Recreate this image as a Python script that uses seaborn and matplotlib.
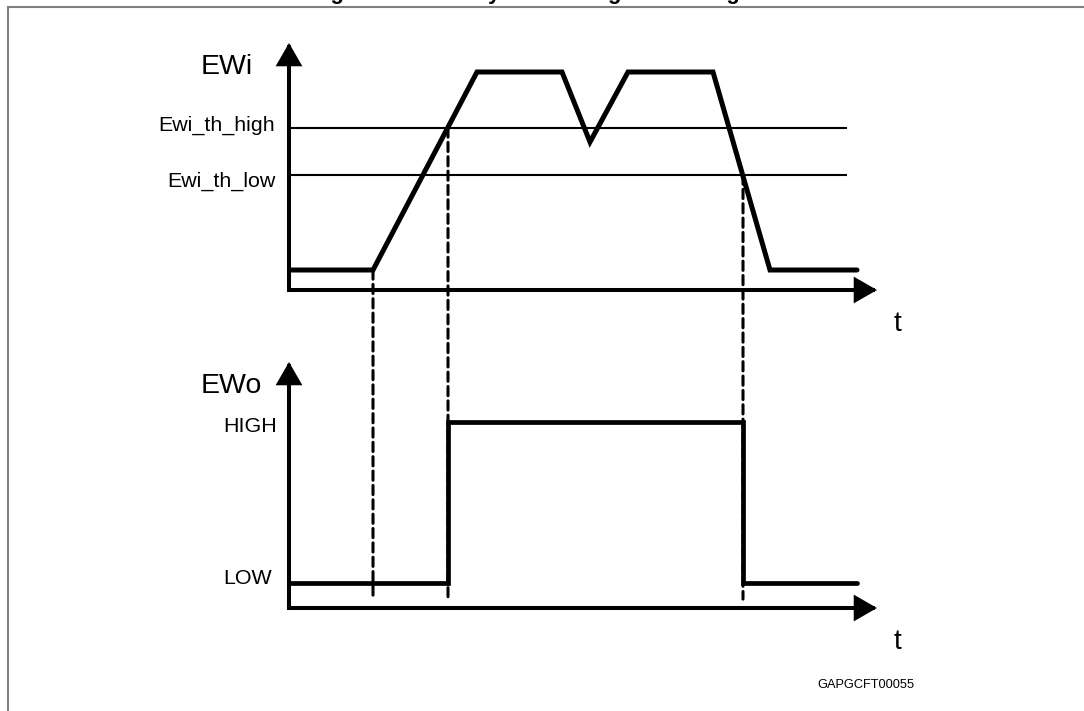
import matplotlib
matplotlib.use('Agg')
import matplotlib.pyplot as plt
from matplotlib.patches import ConnectionPatch, Rectangle
import seaborn as sns

# EWi input signal (time in arbitrary units)
ewi_time = [0, 8.4, 18.8, 27.3, 30.1, 33.9, 42.4, 48.1, 56.8]
ewi_level = [1.0, 1.0, 10.9, 10.9, 7.4, 10.9, 10.9, 1.0, 1.0]

# hysteresis thresholds
th_names = ['Ewi_th_high', 'Ewi_th_low']
th_levels = [8.1, 5.75]
th_end = 55.8

# EWo output, 0 = LOW, 1 = HIGH
ewo_time = [0, 15.9, 15.9, 45.4, 45.4, 56.8]
ewo_state = [0, 0, 1, 1, 0, 0]
state_names = ['LOW', 'HIGH']

# events marked by dashed lines: time and EWi level where the line starts
event_time = [8.4, 15.9, 45.4]
event_level = [1.0, 8.1, 5.75]

title = 'Figure 12. EWx hysteresis signal filtering'
fig_code = 'GAPGCFT00055'


def draw_axes(ax, name):
    # axis lines with arrow heads instead of normal spines
    ax.set_axis_off()
    style = dict(arrowstyle='-|>,head_length=0.4,head_width=0.23', color='black',
                 lw=2.9, mutation_scale=31, shrinkA=0, shrinkB=0,
                 capstyle='projecting', joinstyle='miter')
    ax.annotate('', xy=(1, 0), xytext=(0, 0), xycoords='axes fraction', arrowprops=style)
    ax.annotate('', xy=(0, 1), xytext=(0, 0), xycoords='axes fraction', arrowprops=style)
    ax.annotate(name, xy=(0, 1), xycoords='axes fraction', xytext=(-63.4, -22.3),
                textcoords='offset points', ha='left', va='baseline', fontsize=20.5)
    ax.annotate('t', xy=(1, 0), xycoords='axes fraction', xytext=(15, -29.2),
                textcoords='offset points', ha='center', va='baseline', fontsize=20.5)


def generate_plot():
    sns.set_style('white')
    plt.rcParams['font.family'] = ['Liberation Sans', 'DejaVu Sans']
    plt.rcParams['text.color'] = 'black'

    fig = plt.figure(figsize=(10.84, 7.11), dpi=100)

    # grey frame of the document figure
    fig.add_artist(Rectangle((8 / 1084, -0.05), 1.2, 1.05 - 7 / 711, transform=fig.transFigure,
                             fill=False, edgecolor='#808080', lw=1.5))
    # title is cut by the top of the image, as in the source document
    fig.text(311 / 1084, 1 + 0.6 / 711, title, ha='left', va='baseline',
             fontsize=15.8, fontweight='bold')
    fig.text(866 / 1084, 1 - 688 / 711, fig_code, ha='center', va='baseline', fontsize=9.2)

    ax1 = fig.add_axes([289 / 1084, 1 - 290 / 711, 588 / 1084, 247 / 711])
    ax2 = fig.add_axes([289 / 1084, 1 - 608 / 711, 588 / 1084, 246 / 711])
    ax1.set_xlim(0, 58.8)
    ax1.set_ylim(0, 12.35)
    ax2.set_xlim(0, 58.8)
    ax2.set_ylim(-0.1553, 1.3727)

    draw_axes(ax1, 'EWi')
    draw_axes(ax2, 'EWo')

    # top panel: input signal and thresholds
    ax1.hlines(th_levels, 0, th_end, color='black', lw=1.5)
    sns.lineplot(x=ewi_time, y=ewi_level, ax=ax1, color='black', lw=3.6, sort=False,
                 estimator=None, legend=False, solid_capstyle='round', solid_joinstyle='miter')
    for name, lvl, dy in zip(th_names, th_levels, [-2.2, -8.6]):
        ax1.annotate(name, xy=(0, lvl), xycoords=ax1.get_yaxis_transform(), xytext=(-10, dy),
                     textcoords='offset points', ha='right', va='baseline', fontsize=15.4)

    # bottom panel: output state
    sns.lineplot(x=ewo_time, y=ewo_state, ax=ax2, color='black', lw=3.4, sort=False,
                 estimator=None, legend=False, solid_capstyle='round', solid_joinstyle='miter')
    for state, dy in zip([0, 1], [-0.7, -7.2]):
        ax2.annotate(state_names[state], xy=(0, state), xycoords=ax2.get_yaxis_transform(),
                     xytext=(-47.5, dy), textcoords='offset points', ha='left', va='baseline',
                     fontsize=15.4)

    # dashed lines linking the EWi events to the EWo panel
    for t, lvl in zip(event_time, event_level):
        con = ConnectionPatch(xyA=(t, lvl), coordsA=ax1.transData, xyB=(t, -0.1),
                              coordsB=ax2.transData, color='black', lw=2.2,
                              linestyle=(0, (3, 1.7)))
        fig.add_artist(con)

    fig.savefig('out.png', dpi=100)


if __name__ == "__main__":
    generate_plot()
